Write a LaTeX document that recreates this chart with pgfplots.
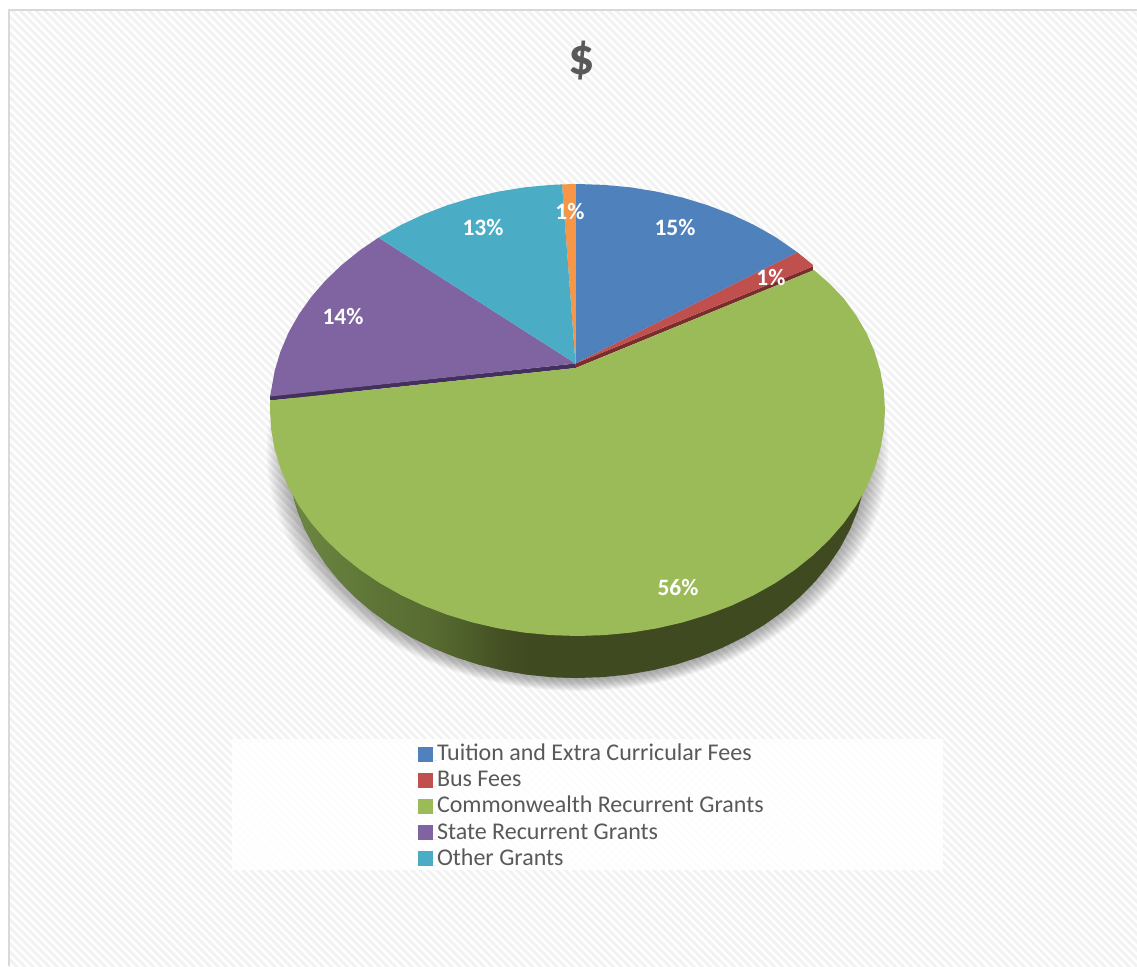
\documentclass[border=0pt]{standalone}
\usepackage{fontspec}
\setmainfont{Carlito}
\usepackage{pgfplots}
\usepackage{pgfplotstable}
\pgfplotsset{compat=1.18}
\usetikzlibrary{patterns.meta}
\definecolor{sliceblue}{HTML}{4F81BD}
\definecolor{slicered}{HTML}{C0504D}
\definecolor{slicegreen}{HTML}{9BBB59}
\definecolor{slicepurple}{HTML}{8064A2}
\definecolor{sliceteal}{HTML}{4BACC6}
\definecolor{sliceorange}{HTML}{F79646}
\definecolor{darkred}{HTML}{7A2E2C}
\definecolor{darkpurple}{HTML}{43305C}
\definecolor{sidedark}{HTML}{404A21}
\definecolor{txtgray}{HTML}{595959}
\definecolor{sa}{HTML}{6A8540}
\definecolor{sg}{HTML}{5E7537}
\definecolor{si}{HTML}{586B31}
\definecolor{sl}{HTML}{4E5F2A}
\definecolor{sm}{HTML}{444F23}
\pgfdeclarehorizontalshading{sidesh}{100bp}{color(0bp)=(sa); color(28bp)=(sa); color(39.7bp)=(sg); color(50bp)=(si); color(56bp)=(sl); color(62bp)=(sm); color(67bp)=(sidedark); color(100bp)=(sidedark)}
\pgfplotstableread{
s c
0.9659 -0.2588
0.9848 -0.1736
0.9962 -0.0872
1.0000 0.0000
0.9962 0.0872
0.9848 0.1736
0.9659 0.2588
0.9397 0.3420
0.9063 0.4226
0.8660 0.5000
0.8192 0.5736
0.7660 0.6428
0.7071 0.7071
0.6428 0.7660
0.5736 0.8192
0.5000 0.8660
0.4226 0.9063
0.3420 0.9397
0.2588 0.9659
0.1736 0.9848
0.0872 0.9962
0.0000 1.0000
-0.0872 0.9962
-0.1736 0.9848
-0.2588 0.9659
-0.3420 0.9397
-0.4226 0.9063
-0.5000 0.8660
-0.5736 0.8192
-0.6428 0.7660
-0.7071 0.7071
-0.7660 0.6428
-0.8192 0.5736
-0.8660 0.5000
-0.9063 0.4226
-0.9397 0.3420
-0.9659 0.2588
-0.9848 0.1736
-0.9962 0.0872
-1.0000 0.0000
-0.9962 -0.0872
-0.9848 -0.1736
-0.9659 -0.2588
}\rimtable
\newcommand\shadowlayer[2]{\addplot[fill=black,fill opacity=0.033,draw=none,forget plot] table[x expr=577.5+#1*\thisrow{s},y expr=452+#2*\thisrow{c}] {\rimtable};}
\begin{document}
\begin{tikzpicture}
\begin{axis}[
  scale only axis, width=1137pt, height=966pt,
  xmin=0, xmax=1137, ymin=0, ymax=966, y dir=reverse,
  hide axis,
  legend style={at={(axis cs:418,743.5)}, anchor=north west, draw=none, fill=none,
    inner sep=0pt, outer sep=0pt, font=\fontsize{24}{26}\selectfont, text=txtgray,
    row sep=2.2pt,
    nodes={inner sep=0pt, outer sep=0pt, text height=17pt, text depth=7pt, anchor=base west}},
  legend cell align=left,
  legend image code/.code={\fill[#1] (0pt,-1pt) rectangle (15pt,14pt); \path (0pt,0pt) -- (19pt,0pt);},
]
% page and background
\addplot[fill=white, draw=none, forget plot] coordinates {(0,0) (1137,0) (1137,966) (0,966)};
\addplot[draw=none, pattern={Lines[angle=-45,distance=5.7pt,line width=2.8pt]}, pattern color=black!5, forget plot]
  coordinates {(9,11) (1137,11) (1137,966) (9,966)};
\addplot[draw=black!15, line width=2pt, forget plot] coordinates {(8.5,966) (8.5,10.5) (1137,10.5)};
% legend box
\addplot[fill=white, fill opacity=0.9, draw=none, forget plot]
  coordinates {(232,739) (943,739) (943,870) (232,870)};
% drop shadow
\shadowlayer{311}{239}
\shadowlayer{309}{238}
\shadowlayer{307}{237}
\shadowlayer{305}{236}
\shadowlayer{303}{235}
\shadowlayer{301}{234}
\shadowlayer{299}{233}
\shadowlayer{297}{232}
\shadowlayer{295}{231}
\shadowlayer{293}{229.5}
\shadowlayer{291}{228}
% side wall
\addplot[fill=sidedark, draw=none, forget plot] table[x expr=577.5+290*\thisrow{s},y expr=452+226*\thisrow{c}] {\rimtable};
\addplot[shading=sidesh, draw=none, forget plot] coordinates {(577.5,452) (287.5,452) (288.6,471.7) (291.9,491.2) (297.4,510.5) (305,529.3) (314.7,547.5) (326.4,565) (339.9,581.6) (355.4,597.3) (372.4,611.8) (391.1,625.1) (411.2,637.1) (432.5,647.7) (454.9,656.8) (478.3,664.4) (502.4,670.3) (527.1,674.6) (552.2,677.1) (577.5,678)};
% orange slice, not in the legend
\addplot[fill=sliceorange, draw=none, forget plot] coordinates {(575.5,363.5) (562,184.4) (575.5,184)};
% inner walls
\addplot[fill=darkred, draw=none, forget plot] coordinates {(575.5,363.5) (812.8,266.5) (812.8,270.5) (575.5,368)};
\addplot[fill=darkpurple, draw=none, forget plot] coordinates {(270,396) (270,400.5) (576,368) (575.5,363.5)};
% slices
\addplot[fill=sliceblue, draw=none] coordinates {(575.5,363.5) (575.5,184) (577.5,184) (604.3,184.9) (630.9,187.4) (657.1,191.7) (682.7,197.6) (707.5,205.2) (731.3,214.3) (753.9,224.9) (775.2,236.9) (797.5,252.3)};
\addplot[fill=slicered, draw=none] coordinates {(575.5,363.5) (797.5,252.3) (813,265) (812.8,266.5)};
\addplot[fill=slicegreen, draw=none] coordinates {(576,368) (814,270) (830,284) (843.8,298.5) (856.2,315.5) (866.5,333) (874.5,351.5) (880.3,370.8) (883.8,390.3) (885,410)
 (883.8,429.7) (880.3,449.2) (874.5,468.5) (866.5,487.3) (856.2,505.5) (843.8,523) (829.4,539.6) (813,555.3) (794.9,569.8) (775.2,583.1) (753.9,595.1) (731.3,605.7) (707.5,614.8) (682.7,622.4) (657.1,628.3) (630.9,632.6) (604.3,635.1) (577.5,636)
 (550.7,635.1) (524.1,632.6) (497.9,628.3) (472.3,622.4) (447.5,614.8) (423.7,605.7) (401.1,595.1) (379.8,583.1) (360.1,569.8) (342,555.3) (325.6,539.6) (311.2,523) (298.8,505.5) (288.5,487.3) (280.5,468.5) (274.7,449.2) (271.2,429.7) (270,410) (270.3,400.5)};
\addplot[fill=slicepurple, draw=none] coordinates {(575.5,363.5) (270,396.5) (271.2,390.3) (274.7,370.8) (280.5,351.5) (288.5,332.7) (298.8,314.5) (311.2,297) (325.6,280.4) (342,264.7) (360.1,250.2) (378.5,237.6)};
\addplot[fill=sliceteal, draw=none] coordinates {(575.5,363.5) (378.5,237.6) (401.1,224.9) (423.7,214.3) (447.5,205.2) (472.3,197.6) (497.9,191.7) (524.1,187.4) (550.7,184.9) (562,184.4)};
\legend{Tuition and Extra Curricular Fees, Bus Fees, Commonwealth Recurrent Grants, State Recurrent Grants, Other Grants}
% labels
\node[text=white, font=\fontsize{23.5}{26}\selectfont\bfseries] at (axis cs:675,227) {15\%};
\node[text=white, font=\fontsize{23.5}{26}\selectfont\bfseries] at (axis cs:771,277) {1\%};
\node[text=white, font=\fontsize{23.5}{26}\selectfont\bfseries] at (axis cs:678,587) {56\%};
\node[text=white, font=\fontsize{23.5}{26}\selectfont\bfseries] at (axis cs:343,316) {14\%};
\node[text=white, font=\fontsize{23.5}{26}\selectfont\bfseries] at (axis cs:483,227) {13\%};
\node[text=white, font=\fontsize{23.5}{26}\selectfont\bfseries] at (axis cs:570,211) {1\%};
\node[text=txtgray, font=\fontsize{52}{58}\selectfont\bfseries] at (axis cs:582,61) {\$};
\end{axis}
\end{tikzpicture}
\end{document}
